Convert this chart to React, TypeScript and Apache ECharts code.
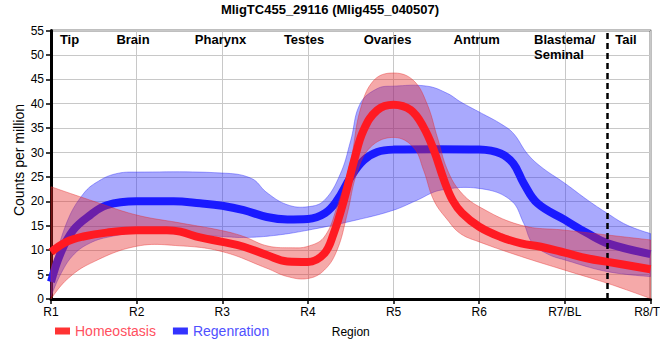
import React, { useEffect, useRef } from 'react';
import * as echarts from 'echarts';

const FONT = 'Liberation Sans, Arial, Helvetica, sans-serif';

const titleText = 'MligTC455_29116 (Mlig455_040507)';
const regionTicks = ['R1', 'R2', 'R3', 'R4', 'R5', 'R6', 'R7/BL', 'R8/TL'];
const xAxisName = 'Region';
const yAxisName = 'Counts per million';
const seriesNames = ['Homeostasis', 'Regenration'];
const tissueLabels = ['Tip', 'Brain', 'Pharynx', 'Testes', 'Ovaries', 'Antrum', 'Blastema/\nSeminal', 'Tail'];
const tailBoundary = 6.5;

// Homeostasis: fitted line and confidence band
const homeLine: [number, number][] = [
  [0, 9.6], [0.18, 11.7], [0.38, 12.8], [0.65, 13.6], [1.0, 14.1], [1.35, 14.1], [1.51, 13.8],
  [1.74, 12.6], [2.0, 11.7], [2.25, 10.7], [2.52, 9.0], [2.76, 7.7], [3.0, 7.6], [3.19, 9.3],
  [3.3, 13.4], [3.42, 20.2], [3.54, 28.4], [3.65, 34.6], [3.81, 38.7], [4.0, 39.8], [4.2, 38.7],
  [4.35, 35.2], [4.47, 30.5], [4.59, 24.3], [4.69, 20.2], [4.8, 17.6], [5.0, 14.8], [5.25, 12.7],
  [5.49, 11.4], [5.72, 10.7], [6.0, 9.5], [6.27, 8.3], [6.5, 7.6], [7.0, 6.1],
];
const homeUpper: [number, number][] = [
  [0, 23.0], [0.5, 20.0], [1.0, 17.2], [1.5, 15.6], [2.0, 14.0], [2.25, 12.8], [2.52, 10.9],
  [2.8, 10.5], [3.0, 10.8], [3.19, 12.7], [3.34, 18.9], [3.5, 28.4], [3.61, 38.7], [3.77, 44.8],
  [4.0, 46.3], [4.23, 44.8], [4.39, 40.0], [4.51, 33.2], [4.63, 26.4], [4.78, 22.0], [5.0, 18.9],
  [5.49, 15.1], [6.0, 14.1], [7.0, 12.1],
];
const homeLower: [number, number][] = [
  [0, 0.0], [0.18, 3.9], [0.46, 7.3], [1.0, 10.8], [1.5, 10.9], [2.0, 9.7], [2.52, 6.3],
  [2.76, 4.6], [3.0, 4.2], [3.19, 5.9], [3.34, 10.0], [3.46, 17.5], [3.57, 25.7], [3.73, 31.1],
  [4.0, 33.1], [4.23, 31.1], [4.35, 26.4], [4.47, 20.2], [4.63, 16.2], [4.78, 13.4], [5.0, 11.7],
  [5.49, 8.7], [6.0, 5.9], [6.5, 3.2], [7.0, 0.1],
];

// Regeneration: fitted line and confidence band
const regenLine: [number, number][] = [
  [0, 3.5], [0.11, 9.3], [0.26, 14.1], [0.46, 17.2], [0.65, 19.2], [1.0, 20.0], [1.43, 20.0],
  [1.74, 19.6], [2.0, 19.1], [2.25, 18.2], [2.52, 16.8], [2.76, 16.3], [3.0, 16.4], [3.2, 17.6],
  [3.34, 20.2], [3.5, 25.0], [3.65, 28.4], [3.81, 30.1], [4.0, 30.6], [4.5, 30.7], [5.0, 30.6],
  [5.25, 29.8], [5.4, 27.7], [5.52, 23.7], [5.68, 19.6], [6.0, 16.2], [6.27, 13.4], [6.5, 11.4],
  [7.0, 9.2],
];
const regenUpper: [number, number][] = [
  [0, 5.0], [0.18, 15.5], [0.38, 21.6], [0.57, 24.3], [0.77, 25.7], [1.0, 26.0], [2.0, 25.8],
  [2.34, 24.7], [2.52, 21.8], [2.76, 19.3], [3.0, 18.9], [3.19, 20.2], [3.38, 25.7], [3.5, 32.5],
  [3.61, 40.0], [3.81, 43.1], [4.0, 43.6], [4.39, 43.6], [4.63, 42.1], [4.78, 40.4], [5.0, 38.3],
  [5.25, 35.9], [5.4, 33.9], [5.56, 29.8], [5.72, 27.1], [6.0, 23.7], [6.27, 20.2], [6.5, 17.5],
  [6.73, 15.1], [7.0, 13.4],
];
const regenLower: [number, number][] = [
  [0, 0.5], [0.11, 5.0], [0.26, 9.0], [0.46, 11.5], [0.7, 12.8], [1.0, 13.5], [1.5, 13.3],
  [2.0, 12.8], [2.25, 12.6], [2.6, 13.0], [3.0, 14.1], [3.57, 16.2], [4.0, 18.2], [4.27, 20.2],
  [4.55, 22.3], [5.02, 22.6], [5.37, 20.2], [5.52, 15.5], [5.62, 11.5], [5.8, 9.2], [6.0, 8.0],
  [6.5, 5.6], [7.0, 4.6],
];

const SMOOTH = 0.4;

function splinePoints(pts: number[][], s: number): number[][] {
  const n = pts.length;
  if (n < 3) return pts.slice();
  const dist = (a: number[], b: number[]) => Math.hypot(b[0] - a[0], b[1] - a[1]);
  const cps: { before: number[]; after: number[] }[] = pts.map((p, i) => {
    if (i === 0 || i === n - 1) return { before: p, after: p };
    const prev = pts[i - 1];
    const next = pts[i + 1];
    const vx = (next[0] - prev[0]) * s;
    const vy = (next[1] - prev[1]) * s;
    const lp = dist(prev, p);
    const ln = dist(p, next);
    const r = lp + ln > 0 ? ln / (lp + ln) : 0.5;
    return {
      before: [p[0] - vx * (1 - r), p[1] - vy * (1 - r)],
      after: [p[0] + vx * r, p[1] + vy * r],
    };
  });
  const out: number[][] = [pts[0]];
  const steps = 12;
  for (let i = 0; i < n - 1; i++) {
    const p0 = pts[i];
    const p1 = cps[i].after;
    const p2 = cps[i + 1].before;
    const p3 = pts[i + 1];
    for (let k = 1; k <= steps; k++) {
      const t = k / steps;
      const mt = 1 - t;
      const x = mt * mt * mt * p0[0] + 3 * mt * mt * t * p1[0] + 3 * mt * t * t * p2[0] + t * t * t * p3[0];
      const y = mt * mt * mt * p0[1] + 3 * mt * mt * t * p1[1] + 3 * mt * t * t * p2[1] + t * t * t * p3[1];
      out.push([x, y]);
    }
  }
  return out;
}

function bandSeries(name: string, upper: [number, number][], lower: [number, number][], fill: string, stroke: string, z: number) {
  const ring = upper.concat(lower.slice().reverse());
  return {
    type: 'custom',
    name,
    silent: true,
    z,
    data: ring,
    encode: { x: 0, y: 1 },
    renderItem: (params: any, api: any) => {
      if (params.dataIndex !== 0) return null;
      const up = upper.map((p) => api.coord(p));
      const lo = lower.map((p) => api.coord(p));
      const pts = splinePoints(up, SMOOTH).concat(splinePoints(lo, SMOOTH).reverse());
      return {
        type: 'polygon',
        shape: { points: pts },
        style: { fill, stroke, lineWidth: 0.8 },
      };
    },
  };
}

export default function App() {
  const ref = useRef<HTMLDivElement>(null);

  useEffect(() => {
    if (!ref.current) return;
    const chart = echarts.init(ref.current, null, { renderer: 'svg' });

    const tissueX = [69.5, 133, 220.5, 304, 387.5, 476.7, 534, 626];

    const graphics: any[] = tissueLabels.map((t, i) => {
      const isMulti = t.indexOf('\n') >= 0;
      return {
        type: 'text',
        x: tissueX[i],
        y: isMulti ? 31.5 : 39,
        style: {
          text: t,
          fill: '#000',
          font: `bold 13px ${FONT}`,
          align: isMulti ? 'left' : 'center',
          verticalAlign: isMulti ? 'top' : 'middle',
          lineHeight: 15,
        },
        z: 100,
      };
    });
    graphics.push({
      type: 'text',
      x: 19,
      y: 160,
      rotation: Math.PI / 2,
      style: {
        text: yAxisName,
        fill: '#000',
        font: `14px ${FONT}`,
        align: 'center',
        verticalAlign: 'middle',
      },
    });

    chart.setOption({
      animation: false,
      textStyle: { fontFamily: FONT },
      title: {
        text: titleText,
        left: 'center',
        top: 3,
        padding: 0,
        textStyle: { fontSize: 13, fontWeight: 'bold', color: '#000', fontFamily: FONT },
      },
      legend: {
        left: 55,
        top: 324,
        padding: 0,
        icon: 'rect',
        itemWidth: 15,
        itemHeight: 7,
        itemGap: 17,
        itemStyle: { borderWidth: 0 },
        textStyle: { fontSize: 14, fontFamily: FONT },
        data: [
          { name: seriesNames[0], itemStyle: { color: '#ff3333' }, textStyle: { color: '#ff5060' } },
          { name: seriesNames[1], itemStyle: { color: '#3333ff' }, textStyle: { color: '#5050ff' } },
        ],
        selectedMode: false,
      },
      grid: {
        left: 51,
        right: 9.5,
        top: 30.5,
        bottom: 61,
        show: true,
        borderColor: '#000',
        borderWidth: 1.5,
        backgroundColor: 'transparent',
        containLabel: false,
        outerBoundsMode: 'none',
      },
      xAxis: {
        type: 'value',
        min: 0,
        max: 7,
        interval: 1,
        name: xAxisName,
        nameLocation: 'middle',
        nameGap: 27,
        nameTextStyle: { fontSize: 12, color: '#000', fontFamily: FONT },
        axisLine: { show: true, lineStyle: { color: '#000', width: 3 } },
        axisTick: { show: true, length: 5, lineStyle: { color: '#000', width: 1.5 } },
        axisLabel: {
          formatter: (v: number) => regionTicks[Math.round(v)] ?? '',
          fontSize: 12,
          color: '#000',
          margin: 7,
          fontFamily: FONT,
        },
        splitLine: { show: true, lineStyle: { color: '#c8c8c8', width: 1 } },
      },
      yAxis: {
        type: 'value',
        min: 0,
        max: 55,
        interval: 5,
        axisLine: { show: true, lineStyle: { color: '#000', width: 3 } },
        axisTick: { show: true, length: 5, lineStyle: { color: '#000', width: 1.5 } },
        axisLabel: { fontSize: 12, color: '#000', margin: 7, fontFamily: FONT },
        splitLine: { show: true, lineStyle: { color: '#c8c8c8', width: 1 } },
      },
      graphic: graphics,
      series: [
        bandSeries('regenBand', regenUpper, regenLower, 'rgba(40,40,250,0.4)', 'rgba(40,40,250,0.5)', 2),
        {
          type: 'line',
          name: seriesNames[1],
          z: 3,
          data: regenLine,
          smooth: SMOOTH,
          showSymbol: false,
          symbol: 'none',
          lineStyle: { width: 8, color: '#1a1aff' },
          itemStyle: { color: '#1a1aff' },
        },
        bandSeries('homeBand', homeUpper, homeLower, 'rgba(230,40,40,0.4)', 'rgba(230,40,40,0.5)', 4),
        {
          type: 'line',
          name: seriesNames[0],
          z: 5,
          data: homeLine,
          smooth: SMOOTH,
          showSymbol: false,
          symbol: 'none',
          lineStyle: { width: 8, color: '#ff1a22' },
          itemStyle: { color: '#ff1a22' },
          markLine: {
            silent: true,
            symbol: ['none', 'none'],
            label: { show: false },
            lineStyle: { color: '#000', width: 2.5, type: [6, 4] },
            data: [{ xAxis: tailBoundary }],
          },
        },
      ],
    });

    return () => chart.dispose();
  }, []);

  return (
    <div
      ref={ref}
      style={{ position: 'fixed', left: 0, top: 0, width: 660, height: 360, background: '#fff' }}
    />
  );
}
